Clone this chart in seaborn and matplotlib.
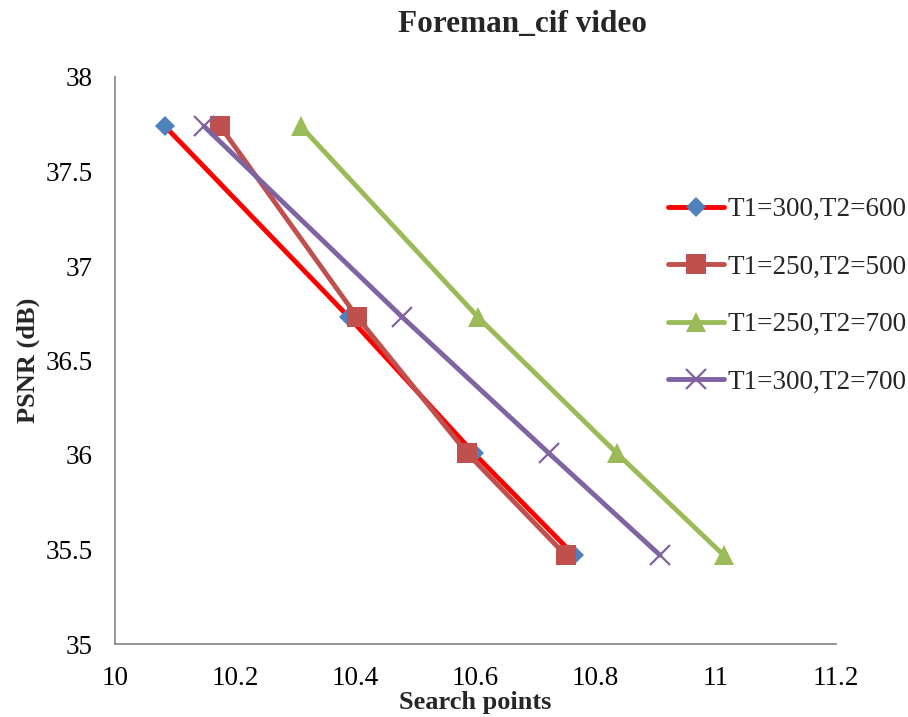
import matplotlib
matplotlib.use("Agg")
import matplotlib.pyplot as plt
import seaborn as sns
import pandas as pd

# PSNR levels (dB) shared by all threshold settings
psnr = [37.74, 36.73, 36.01, 35.47]

# Average search points per block for each (T1, T2) threshold pair
labels = ["T1=300,T2=600", "T1=250,T2=500", "T1=250,T2=700", "T1=300,T2=700"]
sp_300_600 = [10.083, 10.389, 10.597, 10.764]
sp_250_500 = [10.175, 10.403, 10.586, 10.750]
sp_250_700 = [10.309, 10.604, 10.835, 11.013]
sp_300_700 = [10.148, 10.478, 10.722, 10.907]

x_ticks = [10, 10.2, 10.4, 10.6, 10.8, 11, 11.2]
y_ticks = [35, 35.5, 36, 36.5, 37, 37.5, 38]

sns.set_theme(style="white")
plt.rcParams["font.family"] = ["Liberation Serif", "DejaVu Serif"]

fig = plt.figure(figsize=(9.08, 7.17), dpi=100)
ax = fig.add_axes([115 / 908, 1 - 644 / 717, (836 - 115) / 908, (644 - 77) / 717])

styles = [
    dict(color="#FF0000", marker="D", markersize=10, markerfacecolor="#4F81BD",
         markeredgecolor="#4F81BD", markeredgewidth=0),
    dict(color="#C0504D", marker="s", markersize=14, markerfacecolor="#C0504D",
         markeredgecolor="#C0504D", markeredgewidth=0),
    dict(color="#9BBB59", marker="^", markersize=14, markerfacecolor="#9BBB59",
         markeredgecolor="#9BBB59", markeredgewidth=0),
    dict(color="#8064A2", marker="x", markersize=14, markerfacecolor="#8064A2",
         markeredgecolor="#8064A2", markeredgewidth=1.6),
]
series = [sp_300_600, sp_250_500, sp_250_700, sp_300_700]

for lab, xs, st in zip(labels, series, styles):
    df = pd.DataFrame({"Search points": xs, "PSNR (dB)": psnr})
    sns.lineplot(data=df, x="Search points", y="PSNR (dB)", ax=ax, sort=False,
                 label=lab, linewidth=3.5, **st)

ax.set_xlim(10, 11.2)
ax.set_ylim(35, 38)
ax.set_xticks(x_ticks)
ax.set_xticklabels([f"{t:g}" for t in x_ticks])
ax.set_yticks(y_ticks)
ax.set_yticklabels([f"{t:g}" for t in y_ticks])
ax.tick_params(axis="both", length=0, labelsize=19.5, pad=16, colors="black")

for side in ["top", "right"]:
    ax.spines[side].set_visible(False)
for side in ["left", "bottom"]:
    ax.spines[side].set_color("#8C8C8C")
    ax.spines[side].set_linewidth(1.3)

ax.set_xlabel("Search points", fontsize=19, fontweight="bold", labelpad=0)
ax.set_ylabel("PSNR (dB)", fontsize=19, fontweight="bold", labelpad=4)

fig.text(522 / 908, 1 - 24 / 717, "Foreman_cif video", fontsize=22.5,
         fontweight="bold", ha="center", va="center")

leg = ax.legend(loc="upper left", bbox_to_anchor=(668 / 908, 1 - 197 / 717),
                bbox_transform=fig.transFigure, frameon=False, fontsize=19.5,
                handlelength=2.05, handletextpad=0.15, labelspacing=1.2,
                borderpad=0, borderaxespad=0)

fig.savefig("out.png", dpi=100)
